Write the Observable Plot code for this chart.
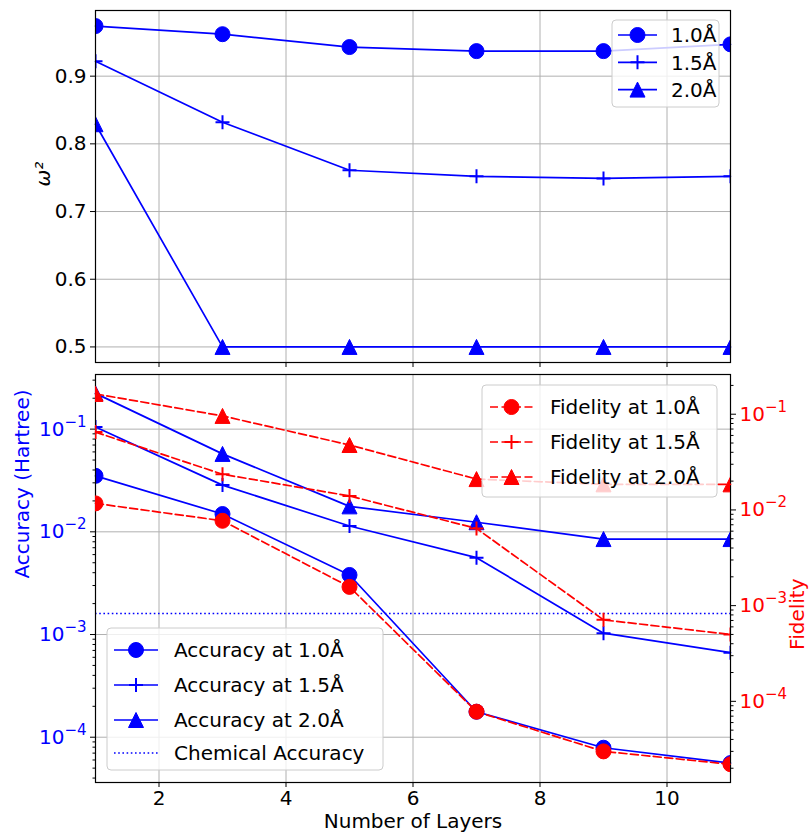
<!DOCTYPE html>
<html><head><meta charset="utf-8">
<script src="https://cdn.jsdelivr.net/npm/d3@7"></script>
<script src="https://cdn.jsdelivr.net/npm/@observablehq/plot@0.6"></script>
<style>
body{margin:0;background:#fff;font-family:"DejaVu Sans",sans-serif;}
#fig{position:relative;width:812px;height:837px;overflow:hidden;}
#fig > svg{position:absolute;left:0;}
</style></head><body><div id="fig"></div><script>
// ---------- data ----------
const layers = [1, 3, 5, 7, 9, 11];
const xTicks = [2, 4, 6, 8, 10];
const bondLengths = ["1.0Å", "1.5Å", "2.0Å"];
const omegaTicks = [0.5, 0.6, 0.7, 0.8, 0.9];
const omega10 = [0.974, 0.962, 0.943, 0.937, 0.937, 0.947];
const omega15 = [0.922, 0.832, 0.761, 0.752, 0.749, 0.752];
const omega20 = [0.829, 0.5, 0.5, 0.5, 0.5, 0.5];
const acc10 = [0.0351, 0.0149, 0.0038, 1.77e-4, 7.9e-5, 5.6e-5];
const acc15 = [0.105, 0.0285, 0.0114, 0.0056, 0.00103, 6.65e-4];
const acc20 = [0.223, 0.0574, 0.0177, 0.0124, 0.0085, 0.0085];
const fid10 = [0.0117, 0.0077, 0.00157, 7.8e-5, 3.0e-5, 2.2e-5];
const fid15 = [0.065, 0.0236, 0.0140, 0.0064, 7.1e-4, 5.0e-4];
const fid20 = [0.163, 0.096, 0.0477, 0.021, 0.0185, 0.0185];
const chemicalAccuracy = 0.0016;
const logTicks = [1e-4, 1e-3, 1e-2, 1e-1];

// ---------- styling ----------
const BLUE = "#0000ff", RED = "#ff0000", GRID = "#b0b0b0";
const W = 812, ML = 95, MR = 82;
const FS = 20;
const R = 7.5;
const style = {fontFamily: "'DejaVu Sans', sans-serif", fontSize: FS + "px", background: "transparent", overflow: "visible", color: "black"};

const symTri = {draw(ctx, size) { const r = Math.sqrt(size / Math.PI); ctx.moveTo(0, -r); ctx.lineTo(r, r); ctx.lineTo(-r, r); ctx.closePath(); }};
const symPlus = {draw(ctx, size) { const r = Math.sqrt(size / Math.PI); ctx.moveTo(-r, 0); ctx.lineTo(r, 0); ctx.moveTo(0, -r); ctx.lineTo(0, r); }};
const syms = ["circle", symPlus, symTri];

function rows(arrs) { return arrs.flatMap((arr, k) => arr.map((v, i) => ({x: layers[i], y: v, s: k}))); }
const omegaRows = rows([omega10, omega15, omega20]);
const accRows = rows([acc10, acc15, acc20]);
const fidRows = rows([fid10, fid15, fid20]);

function dots(data, color) {
  return [0, 1, 2].map(k => Plot.dot(data.filter(d => d.s === k), {
    x: "x", y: "y", r: k === 1 ? 7 : R, symbol: syms[k],
    fill: k === 1 ? "none" : color, stroke: color, strokeWidth: k === 1 ? 2 : 1, clip: true
  }));
}
function minorTicks(lo, hi) {
  const out = [];
  for (let e = -6; e <= 0; e++) for (let m = 2; m <= 9; m++) { const v = m * 10 ** e; if (v >= lo && v <= hi) out.push(v); }
  return out;
}
const supFmt = d => "10^" + Math.round(Math.log10(d));

const fig = document.getElementById("fig");

// ---------- top panel ----------
const topPlot = Plot.plot({
  width: W, height: 370, marginLeft: ML, marginRight: MR, marginTop: 10, marginBottom: 8,
  style,
  x: {domain: [1, 11]},
  y: {domain: [0.477, 0.997]},
  marks: [
    Plot.gridX({ticks: xTicks, stroke: GRID, strokeOpacity: 1, strokeWidth: 1}),
    Plot.gridY({ticks: omegaTicks, stroke: GRID, strokeOpacity: 1, strokeWidth: 1}),
    Plot.line(omegaRows, {x: "x", y: "y", z: "s", stroke: BLUE, strokeWidth: 1.7}),
    ...dots(omegaRows, BLUE),
    Plot.axisX({ticks: xTicks, tickSize: 5, tickFormat: () => "", label: null}),
    Plot.axisY({ticks: omegaTicks, tickSize: 5, tickPadding: 4, tickFormat: d3.format(".1f"), label: null}),
    Plot.frame({stroke: "black", strokeWidth: 1.2}),
    Plot.text(["ω²"], {text: d => d, frameAnchor: "left", dx: -52, rotate: -90, fontSize: FS, fontStyle: "italic", fill: "black"})
  ]
});
topPlot.style.top = "0px";
fig.appendChild(topPlot);

// ---------- bottom panel: accuracy (left axis) ----------
const BT = 366, BH = 471;
const accDomain = [10 ** -4.441, 10 ** -0.468];
const fidDomain = [10 ** -4.848, 10 ** -0.585];
const accPlot = Plot.plot({
  width: W, height: BH, marginLeft: ML, marginRight: MR, marginTop: 8, marginBottom: 55,
  style,
  x: {domain: [1, 11]},
  y: {type: "log", domain: accDomain},
  marks: [
    Plot.gridX({ticks: xTicks, stroke: GRID, strokeOpacity: 1, strokeWidth: 1}),
    Plot.gridY({ticks: logTicks, stroke: GRID, strokeOpacity: 1, strokeWidth: 1}),
    Plot.ruleY([chemicalAccuracy], {stroke: BLUE, strokeWidth: 1.6, strokeDasharray: "1.6,2.6"}),
    Plot.line(accRows, {x: "x", y: "y", z: "s", stroke: BLUE, strokeWidth: 1.7}),
    ...dots(accRows, BLUE),
    Plot.axisX({ticks: xTicks, tickSize: 5, tickPadding: 3, tickFormat: d3.format("d"), label: null}),
    Plot.axisY({ticks: logTicks, tickSize: 5, tickPadding: 4, tickFormat: supFmt, label: null}),
    Plot.axisY({ticks: minorTicks(...accDomain), tickSize: 2.5, tickFormat: () => "", label: null}),
    Plot.frame({stroke: "black", strokeWidth: 1.2}),
    Plot.text(["Accuracy (Hartree)"], {text: d => d, frameAnchor: "left", dx: -73, rotate: -90, fontSize: FS, fill: BLUE}),
    Plot.text(["Number of Layers"], {text: d => d, frameAnchor: "bottom", dy: 45, fontSize: FS, fill: "black"})
  ]
});
accPlot.style.top = BT + "px";
fig.appendChild(accPlot);

// ---------- bottom panel: fidelity (right axis) ----------
const fidPlot = Plot.plot({
  width: W, height: BH, marginLeft: ML, marginRight: MR, marginTop: 8, marginBottom: 55,
  style,
  x: {domain: [1, 11], axis: null},
  y: {type: "log", domain: fidDomain},
  marks: [
    Plot.line(fidRows, {x: "x", y: "y", z: "s", stroke: RED, strokeWidth: 1.7, strokeDasharray: "8,3.5"}),
    ...dots(fidRows, RED),
    Plot.axisY({anchor: "right", ticks: logTicks, tickSize: 5, tickPadding: 4, tickFormat: supFmt, label: null}),
    Plot.axisY({anchor: "right", ticks: minorTicks(...fidDomain), tickSize: 2.5, tickFormat: () => "", label: null}),
    Plot.text(["Fidelity"], {text: d => d, frameAnchor: "right", dx: 67, rotate: -90, fontSize: FS, fill: RED})
  ]
});
fidPlot.style.top = BT + "px";
fig.appendChild(fidPlot);

// superscript tick labels
function superscript(svg, color) {
  svg.querySelectorAll('g[aria-label="y-axis tick label"] text').forEach(t => {
    const s = t.textContent;
    if (!s.includes("^")) return;
    const [base, exp] = s.split("^");
    t.textContent = base;
    const ts = document.createElementNS("http://www.w3.org/2000/svg", "tspan");
    ts.setAttribute("dy", "-9");
    ts.setAttribute("font-size", "15px");
    ts.textContent = exp.replace("-", "−");
    t.appendChild(ts);
    t.setAttribute("fill", color);
  });
}
superscript(accPlot, BLUE);
superscript(fidPlot, RED);

// ---------- legends ----------
function legend({x, y, w, h, items, color, dash, handle, textX}) {
  const svg = d3.create("svg").attr("width", w + 2).attr("height", h + 2)
    .style("position", "absolute").style("left", (x - 1) + "px").style("top", (y - 1) + "px")
    .style("font-family", "'DejaVu Sans', sans-serif").style("font-size", FS + "px");
  svg.append("rect").attr("x", 1).attr("y", 1).attr("width", w).attr("height", h).attr("rx", 4)
    .attr("fill", "white").attr("fill-opacity", 0.8).attr("stroke", "#cccccc").attr("stroke-width", 1);
  items.forEach(it => {
    const cy = it.cy - y + 1;
    const c = it.color || color;
    svg.append("line").attr("x1", handle[0] - x + 1).attr("x2", handle[1] - x + 1).attr("y1", cy).attr("y2", cy)
      .attr("stroke", c).attr("stroke-width", it.sym === "dot" ? 1.6 : 1.7)
      .attr("stroke-dasharray", it.sym === "dot" ? "1.6,2.6" : (dash || null));
    const mx = (handle[0] + handle[1]) / 2 - x + 1;
    if (it.sym !== "dot") {
      const type = it.sym === "circle" ? d3.symbolCircle : it.sym === "plus" ? symPlus : symTri;
      const rr = it.sym === "plus" ? 7 : R;
      svg.append("path").attr("d", d3.symbol(type, Math.PI * rr * rr)()).attr("transform", `translate(${mx},${cy})`)
        .attr("fill", it.sym === "plus" ? "none" : c).attr("stroke", c).attr("stroke-width", it.sym === "plus" ? 2 : 1);
    }
    svg.append("text").attr("x", textX - x + 1).attr("y", cy).attr("dy", "0.36em").attr("fill", "black").text(it.label);
  });
  fig.appendChild(svg.node());
}
const symNames = ["circle", "plus", "tri"];
legend({x: 612, y: 20, w: 107, h: 87, color: BLUE, handle: [618, 657], textX: 671,
  items: bondLengths.map((b, k) => ({sym: symNames[k], label: b, cy: 35 + 27.3 * k}))});
legend({x: 482, y: 385, w: 235, h: 112, color: RED, dash: "8,3.5", handle: [490, 533], textX: 550,
  items: bondLengths.map((b, k) => ({sym: symNames[k], label: "Fidelity at " + b, cy: 407 + 35 * k}))});
legend({x: 107, y: 628, w: 276, h: 142, color: BLUE, handle: [114, 158], textX: 174,
  items: [...bondLengths.map((b, k) => ({sym: symNames[k], label: "Accuracy at " + b, cy: 650 + 35 * k})),
          {sym: "dot", label: "Chemical Accuracy", cy: 753}]});
</script></body></html>
